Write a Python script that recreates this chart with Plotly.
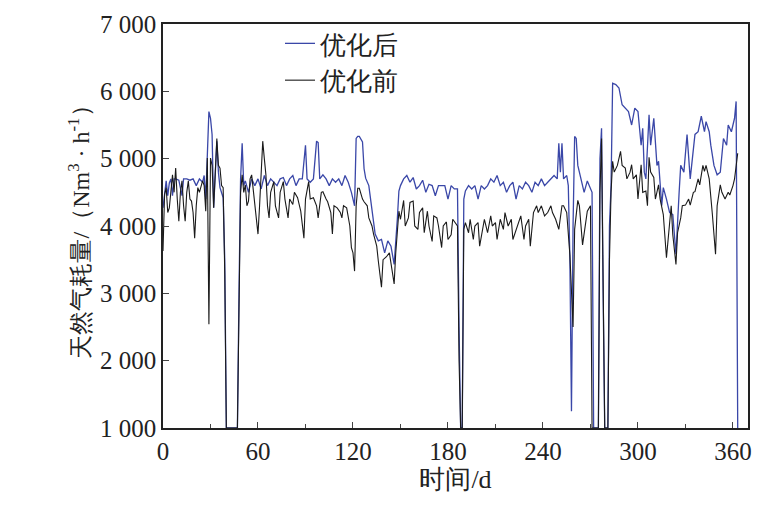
import plotly.graph_objects as go

after_days = [0, 1, 2, 3, 4, 5, 6, 7, 8, 10, 12, 13, 15, 17, 19, 21, 23, 25, 26, 27, 28, 29, 30, 31, 32, 33, 34, 35, 36, 38, 39, 40, 47, 48, 49, 50, 51, 52, 54, 56, 58, 60, 62, 64, 66, 68, 70, 72, 74, 76, 78, 80, 82, 84, 86, 88, 90, 91, 93, 95, 97, 98, 99, 101, 103, 105, 107, 109, 111, 113, 115, 117, 119, 121, 122, 123, 124, 126, 127, 128, 130, 132, 134, 136, 138, 140, 142, 144, 146, 148, 149, 150, 152, 154, 156, 158, 160, 162, 164, 166, 168, 170, 172, 174, 176, 178, 180, 182, 184, 186, 187, 188, 189, 190, 191, 193, 195, 197, 199, 201, 203, 205, 207, 209, 211, 213, 215, 217, 219, 221, 223, 225, 227, 229, 231, 233, 235, 237, 239, 241, 243, 245, 247, 249, 250, 251, 252, 253, 255, 256, 257, 258, 259, 260, 261, 262, 264, 266, 268, 270, 271, 272, 275, 276, 277, 278, 279, 281, 282, 283, 284, 286, 288, 290, 292, 294, 296, 298, 300, 302, 303, 304, 305, 307, 308, 310, 312, 313, 315, 316, 318, 320, 322, 324, 326, 327, 329, 331, 333, 335, 336, 338, 340, 342, 343, 345, 346, 348, 350, 352, 354, 356, 357, 359, 361, 362, 363]
after_vals = [4270, 4520, 4670, 4450, 4640, 4700, 4450, 4700, 4700, 4680, 4450, 4700, 4700, 4680, 4700, 4600, 4700, 4650, 4750, 4400, 5200, 5700, 5600, 5360, 4270, 4900, 5260, 4800, 4570, 4420, 3500, 1000, 1000, 3000, 4700, 5230, 4600, 4670, 4500, 4700, 4600, 4700, 4550, 4750, 4600, 4700, 4650, 4600, 4700, 4720, 4600, 4700, 4750, 4600, 4700, 4700, 5200, 4700, 4650, 4700, 5260, 5240, 4700, 4760, 4700, 4600, 4700, 4650, 4700, 4600, 4750, 4650, 4500, 4300, 5300, 5330, 5330, 5250, 4850, 4710, 4600, 4200, 3880, 3780, 3800, 3600, 3780, 3700, 3430, 4100, 4520, 4600, 4700, 4750, 4650, 4720, 4550, 4600, 4680, 4500, 4620, 4600, 4450, 4600, 4600, 4600, 4400, 4600, 4550, 4550, 2500, 1000, 1000, 4400, 4520, 4600, 4550, 4600, 4400, 4600, 4550, 4600, 4700, 4650, 4750, 4600, 4650, 4500, 4600, 4650, 4400, 4600, 4550, 4650, 4600, 4500, 4650, 4600, 4700, 4600, 4650, 4700, 4750, 4700, 5230, 4800, 5230, 4700, 4750, 4600, 3500, 1250, 4000, 5330, 5300, 4900, 4700, 4500, 4670, 4560, 4500, 1000, 1000, 5000, 5450, 3000, 1000, 1000, 4000, 4600, 6120, 6100, 6050, 5800, 5750, 5700, 5500, 5750, 5700, 5200, 5450, 4800, 4700, 5650, 5200, 5600, 4900, 4960, 4300, 4570, 4400, 4200, 4170, 3580, 4500, 4900, 4800, 5360, 4700, 5100, 5360, 5400, 5630, 5400, 5550, 5400, 5200, 4900, 4760, 4800, 5300, 5200, 5500, 5400, 5600, 5850, 1000]

before_days = [0, 1, 2, 3, 4, 5, 6, 7, 8, 9, 10, 11, 12, 13, 14, 15, 16, 17, 18, 19, 20, 21, 22, 23, 24, 25, 26, 27, 28, 29, 30, 31, 32, 33, 34, 35, 36, 37, 38, 39, 40, 47, 48, 49, 50, 51, 52, 53, 54, 55, 56, 58, 60, 61, 62, 63, 64, 65, 66, 67, 68, 70, 71, 73, 74, 76, 77, 79, 80, 82, 83, 85, 87, 89, 90, 92, 93, 95, 97, 98, 100, 101, 103, 104, 106, 107, 108, 110, 112, 113, 114, 116, 118, 119, 120, 121, 122, 123, 124, 126, 127, 129, 130, 132, 133, 135, 136, 138, 139, 141, 143, 144, 146, 147, 149, 150, 152, 153, 155, 156, 158, 159, 161, 162, 164, 165, 167, 168, 170, 171, 173, 174, 176, 177, 179, 180, 182, 183, 185, 186, 187, 188, 189, 190, 191, 193, 194, 196, 197, 199, 200, 202, 203, 205, 207, 208, 210, 211, 213, 215, 216, 218, 220, 221, 223, 225, 226, 228, 229, 231, 232, 234, 236, 237, 239, 241, 243, 245, 246, 248, 250, 252, 253, 255, 257, 259, 260, 262, 263, 265, 266, 268, 270, 271, 275, 276, 277, 278, 279, 281, 282, 283, 284, 285, 287, 289, 290, 292, 293, 295, 296, 297, 299, 300, 302, 303, 305, 306, 307, 308, 310, 311, 313, 314, 316, 318, 320, 321, 322, 324, 325, 327, 328, 330, 332, 333, 335, 336, 338, 339, 341, 342, 343, 345, 347, 349, 350, 352, 353, 355, 357, 358, 360, 361, 363]
before_vals = [3630, 4470, 4570, 4200, 4270, 4560, 4760, 4500, 4860, 4400, 4070, 4500, 4670, 4300, 4070, 4500, 4670, 4400, 4370, 4200, 3820, 4300, 4570, 4500, 4600, 4670, 4600, 4220, 5010, 2540, 5010, 4900, 4270, 4700, 5300, 4900, 4860, 4600, 4570, 3300, 1000, 1000, 3000, 4500, 4760, 4500, 4610, 4300, 4370, 4700, 4760, 4300, 3880, 4300, 4800, 5260, 5000, 4760, 4300, 4120, 4500, 4660, 4300, 4120, 4500, 4660, 4400, 4120, 4400, 4320, 4500, 4420, 4220, 3820, 4400, 4660, 4400, 4420, 4300, 4120, 4500, 4510, 4400, 4360, 4200, 3880, 4300, 4270, 4200, 4120, 4300, 4270, 4000, 3680, 3600, 3330, 4300, 4560, 4560, 4400, 4360, 4300, 4120, 4000, 3880, 3700, 3480, 3090, 3500, 3540, 3600, 3440, 3140, 3600, 4220, 4100, 4380, 4000, 4120, 4350, 4370, 4000, 3950, 4200, 4270, 3900, 4220, 4000, 3770, 4150, 4120, 4000, 3680, 4000, 4060, 3800, 3870, 4100, 4020, 4000, 2000, 1000, 1000, 3950, 4050, 3900, 4100, 3800, 4000, 4050, 3700, 4000, 4100, 3900, 4150, 4000, 4050, 3800, 4100, 3950, 4200, 4000, 4100, 3800, 3950, 4100, 4150, 3800, 4000, 4100, 3700, 4200, 4300, 4200, 4300, 4150, 4200, 4300, 4200, 4100, 3950, 4300, 4300, 4200, 3570, 2500, 3950, 4380, 4300, 3720, 3900, 4220, 4300, 1000, 1000, 4500, 5300, 3000, 1000, 1000, 3500, 4500, 4960, 4800, 4900, 5110, 4900, 4860, 4700, 4800, 4910, 4700, 4760, 4400, 4910, 4500, 4520, 4300, 5020, 4800, 4720, 4400, 4610, 4400, 4170, 3530, 4070, 4300, 3870, 3430, 3900, 4120, 4300, 4310, 4400, 4310, 4500, 4510, 4700, 4610, 4900, 4810, 4900, 4700, 4170, 3580, 4300, 4610, 4500, 4400, 4500, 4460, 4600, 4700, 5080]

y_ticks = [1000, 2000, 3000, 4000, 5000, 6000, 7000]
y_labels = ["1 000", "2 000", "3 000", "4 000", "5 000", "6 000", "7 000"]
x_ticks = [0, 60, 120, 180, 240, 300, 360]

fig = go.Figure()
fig.add_trace(go.Scatter(x=after_days, y=after_vals, mode="lines", name="优化后",
                         line=dict(color="#3a47a8", width=1.3)))
fig.add_trace(go.Scatter(x=before_days, y=before_vals, mode="lines", name="优化前",
                         line=dict(color="#1a1a1a", width=1.1)))

# page body has an 8px margin, so the figure is sized 8px smaller
fig.update_layout(
    width=752, height=517,
    margin=dict(l=155, r=12, t=14, b=97),
    paper_bgcolor="white", plot_bgcolor="white",
    font=dict(family="Liberation Serif, serif", size=25, color="#222"),
    legend=dict(x=0.2, y=1.01, xanchor="left", yanchor="top",
                bgcolor="rgba(0,0,0,0)", font=dict(size=26), tracegroupgap=0),
    xaxis=dict(range=[0, 369.5], tickvals=x_ticks, ticks="inside", ticklen=6,
               automargin=False,
               showline=True, linecolor="#222", linewidth=1.5, mirror=True,
               showgrid=False, zeroline=False,
               minor=dict(dtick=30, tick0=0, ticks="inside", ticklen=4),
               title=dict(text="时间/d", font=dict(size=26), standoff=4)),
    yaxis=dict(range=[1000, 7000], tickvals=y_ticks, ticktext=y_labels,
               ticks="inside", ticklen=6, automargin=False,
               showline=True, linecolor="#222", linewidth=1.5, mirror=True,
               showgrid=False, zeroline=False,
               title=dict(text="天然气耗量/（Nm<sup>3</sup> · h<sup>-1</sup>）",
                          font=dict(size=24), standoff=4)),
)

fig.write_html("out.html")
